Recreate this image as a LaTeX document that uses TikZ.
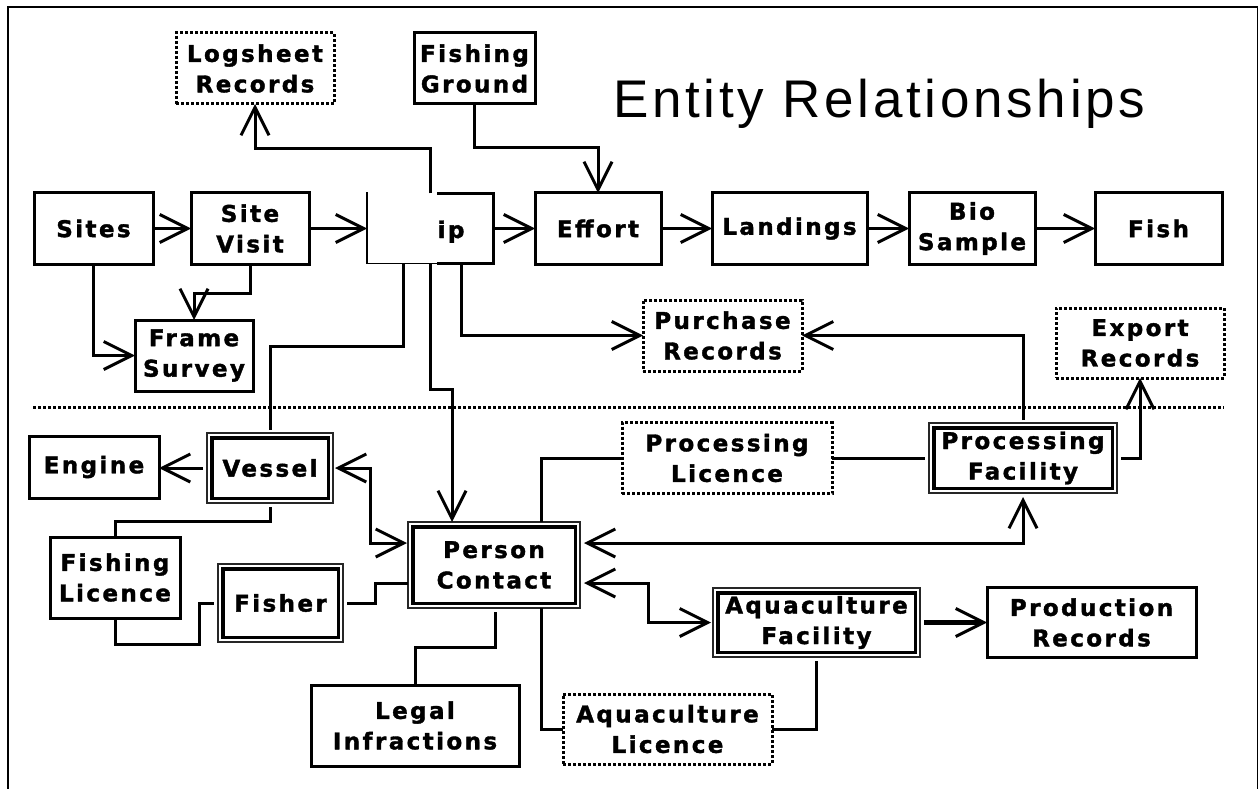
\documentclass[tikz,border=0pt]{standalone}
\usepackage{fontspec}
\usetikzlibrary{arrows.meta,calc}
\newfontfamily\boxfont[LetterSpace=10.5,FakeBold=1.6]{DejaVu Sans Bold}
\newfontfamily\titlefont[LetterSpace=7]{Liberation Sans}
\tikzset{
  box/.style={draw, line width=3pt, inner sep=0pt, outer sep=0pt, align=center,
    font=\boxfont\fontsize{23}{30.5}\selectfont},
  obox/.style={box, line width=3pt, dash pattern=on 3pt off 2pt},
  dbox/.style={box, draw=black!85, line width=1.2pt,
    path picture={\draw[black,line width=3.8pt,solid]
      ([shift={(4.6pt,4.6pt)}]path picture bounding box.south west) rectangle
      ([shift={(-4.6pt,-4.6pt)}]path picture bounding box.north east);}},
  conn/.style={line width=3pt},
  arr/.style={conn, -{Straight Barb[length=28pt,width=28pt]}},
  darr/.style={conn, {Straight Barb[length=28pt,width=28pt]}-{Straight Barb[length=28pt,width=28pt]}},
}
\begin{document}
\begin{tikzpicture}[x=1pt,y=-1pt]
\useasboundingbox (0,0) rectangle (1259,789);
% frame
\draw[line width=1.5pt] (8,789) -- (8,7) -- (1257.5,7) -- (1257.5,789);
% title
\node[anchor=base west, inner sep=0pt, font=\titlefont\fontsize{53}{60}\selectfont] (title) at (613,118) {Entity Relationships};
% separator
\coordinate (sepl) at (33,407);
\coordinate (sepr) at (1224,407);
\draw[line width=3pt, dash pattern=on 3pt off 2pt] (sepl) -- (sepr);

% upper nodes
\node[obox, minimum width=158pt, minimum height=71pt] (logsheet) at (255,68.5) {Logsheet\\Records};
\node[box, minimum width=121pt, minimum height=71pt] (fground) at (474.5,68.5) {Fishing\\Ground};
\node[box, minimum width=119pt, minimum height=71pt] (sites) at (93.5,228.5) {Sites};
\node[box, minimum width=118pt, minimum height=71pt] (sitevisit) at (250,228.5) {Site\\Visit};
\node[box, minimum width=126pt, minimum height=70pt] (trip) at (430,228.5) {};
\node[box, minimum width=126pt, minimum height=71pt] (effort) at (598,228.5) {Effort};
\node[box, minimum width=155pt, minimum height=71pt] (landings) at (789.5,228.5) {Landings};
\node[box, minimum width=126pt, minimum height=71pt] (biosample) at (972,228.5) {Bio\\Sample};
\node[box, minimum width=127pt, minimum height=71pt] (fish) at (1158.5,228.5) {Fish};
\node[box, minimum width=118pt, minimum height=71pt] (framesurvey) at (194,355.5) {Frame\\Survey};
\node[obox, minimum width=159pt, minimum height=71pt] (purchase) at (722.5,335.5) {Purchase\\Records};
\node[obox, minimum width=168pt, minimum height=70pt] (export) at (1140,343) {Export\\Records};

% white patch over the left part of the trip box
\fill[white] (366,190) rectangle (437,265);
\draw[line width=1.3pt] (367,192.5) -- (367,263.5) -- (437,263.5);
\node[anchor=base west, inner sep=0pt, font=\boxfont\fontsize{23}{30.5}\selectfont] (tripip) at (437.5,238) {ip};

% lower nodes
\node[box, minimum width=130pt, minimum height=62pt] (engine) at (94,467) {Engine};
\node[dbox, minimum width=126pt, minimum height=70pt] (vessel) at (270,468) {Vessel};
\node[box, minimum width=130pt, minimum height=81pt] (flicence) at (115,577.5) {Fishing\\Licence};
\node[dbox, minimum width=125pt, minimum height=78pt] (fisher) at (280.5,603) {Fisher};
\node[dbox, minimum width=172pt, minimum height=86pt] (person) at (494,565) {Person\\Contact};
\node[obox, minimum width=210pt, minimum height=71pt] (plicence) at (727,458) {Processing\\Licence};
\node[dbox, minimum width=188pt, minimum height=70pt] (pfacility) at (1023,458) {Processing\\Facility};
\node[dbox, minimum width=207pt, minimum height=69pt] (afacility) at (816.5,622.5) {Aquaculture\\Facility};
\node[box, minimum width=209pt, minimum height=70pt] (production) at (1091.5,622.5) {Production\\Records};
\node[box, minimum width=208pt, minimum height=81pt] (legal) at (415,725.5) {Legal\\Infractions};
\node[obox, minimum width=209pt, minimum height=70pt] (alicence) at (667.5,729) {Aquaculture\\Licence};

% upper connectors
\draw[arr] (sites) -- (sitevisit);
\draw[arr] (sitevisit) -- (trip);
\draw[arr] (trip) -- (effort);
\draw[arr] (effort) -- (landings);
\draw[arr] (landings) -- (biosample);
\draw[arr] (biosample) -- (fish);
\draw[arr] (trip.north) -- ++(0,-45) -| (logsheet.south);
\draw[arr] (fground.south) -- ++(0,44) -| (effort.north);
\draw[arr] (sites.south) |- (framesurvey.west);
\draw[arr] (sitevisit.south) -- ++(0,29) -| (framesurvey.north);
\draw[conn] ([xshift=-27pt]trip.south) -- ++(0,83) -| ([yshift=3pt]vessel.north);
\draw[arr] (trip.south) -- ++(0,126) -| ([xshift=-42pt]person.north);
\draw[arr] ([xshift=31pt]trip.south) |- (purchase.west);
\draw[arr] ([yshift=3pt]pfacility.north) |- (purchase.east);
\draw[arr] ([xshift=4pt]pfacility.east) -| (export.south);

% lower connectors
\draw[conn] (plicence.east) -- ([xshift=-4pt]pfacility.west);
\draw[conn] ([xshift=47pt]person.north) |- (plicence.west);
\draw[arr] ([xshift=-4pt]vessel.west) -- (engine.east |- vessel.west);
\draw[darr] ([xshift=2pt]vessel.east) -- ++(35,0) |- ([xshift=-1pt,yshift=22pt]person.west);
\draw[conn] ([yshift=-4pt]vessel.south) -- ++(0,14) -| (flicence.north);
\draw[conn] (flicence.south) -- ++(0,26) -- ++(84,0) |- ([xshift=-4pt]fisher.west);
\draw[conn] ([xshift=4pt]fisher.east) -- ++(28,0) |- ([yshift=-18pt]person.west);
\draw[darr] ([xshift=4pt,yshift=22pt]person.east) -| ([yshift=-4pt]pfacility.south);
\draw[darr] ([xshift=4pt,yshift=-18pt]person.east) -- ++(64,0) |- ([xshift=-2pt]afacility.west);
\draw[conn, line width=4.5pt, -{Straight Barb[length=28pt,width=28pt,line width=3pt]}] ([xshift=4pt]afacility.east) -- (production.west);
\draw[conn] ([yshift=-4pt]afacility.south) |- (alicence.east);
\draw[conn] ([xshift=47pt]person.south) |- (alicence.west);
\draw[conn] ([xshift=1pt,yshift=-4pt]person.south) -- ++(0,35) -| (legal.north);
\end{tikzpicture}
\end{document}
